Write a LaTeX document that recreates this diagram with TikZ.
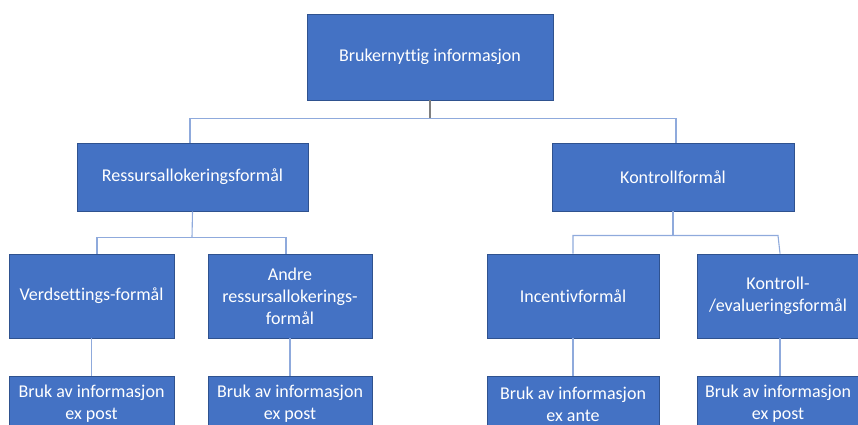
\documentclass[tikz,border=0pt]{standalone}
\usepackage{fontspec}
\setmainfont{Carlito}[Ligatures={NoCommon}]
\definecolor{boxfill}{HTML}{4472C4}
\definecolor{boxline}{HTML}{2F528F}
\definecolor{connblue}{HTML}{8FAADC}
\definecolor{conngray}{HTML}{7F7F7F}
\begin{document}
\begin{tikzpicture}[x=1pt,y=-1pt,
  box/.style={draw=boxline,line width=0.9pt,fill=boxfill,text=white,align=center,
    inner sep=2pt,font=\fontsize{18}{22}\selectfont},
  conn/.style={draw=connblue,line width=1.1pt},
  conng/.style={draw=conngray,line width=1.4pt}]
\useasboundingbox (0,0) rectangle (858,424);
% level 1
\node[box,minimum width=246pt,minimum height=86pt] (top) at (430,57) {Brukernyttig informasjon};
% level 2
\node[box,minimum width=231pt,minimum height=68pt] (L2L) at (192.5,177) {Ressursallokeringsformål};
\node[box,minimum width=242pt,minimum height=68pt] (L2R) at (673,177) {Kontrollformål};
% level 3
\node[box,minimum width=165pt,minimum height=84pt] (L3a) at (91.5,296) {Verdsettings-formål};
\node[box,minimum width=164pt,minimum height=84pt] (L3b) at (290,296) {Andre\\ressursallokerings-\\formål};
\node[box,minimum width=172pt,minimum height=84pt] (L3c) at (573,296) {Incentivformål};
\node[box,minimum width=162pt,minimum height=84pt] (L3d) at (778,296) {Kontroll-\\/evalueringsformål};
% level 4
\node[box,minimum width=165pt,minimum height=56pt] (L4a) at (91.5,404) {Bruk av informasjon\\ex post};
\node[box,minimum width=164pt,minimum height=56pt] (L4b) at (290,404) {Bruk av informasjon\\ex post};
\node[box,minimum width=172pt,minimum height=56pt] (L4c) at (573,404) {Bruk av informasjon\\ex ante};
\node[box,minimum width=162pt,minimum height=56pt] (L4d) at (778,404) {Bruk av informasjon\\ex post};
% connectors
\coordinate (j1) at (430,118.7);
\coordinate (j2) at (192,237.5);
\coordinate (j3) at (673,235.5);
\draw[conng] (top.south) -- (j1);
\draw[conn] ([xshift=-2.5pt]L2L.north) |- (j1) -| ([xshift=3pt]L2R.north);
\draw[conn] (L2L.south) -- (j2);
\draw[conn] ([xshift=5.5pt]L3a.north) |- (j2) -| ([xshift=-4pt]L3b.north);
\draw[conn] (L2R.south) -- (j3);
\draw[conn] (L3c.north) |- (j3) -- (778,235.5) -- ([xshift=2pt]L3d.north);
\draw[conn] (L3a.south) -- (L4a.north);
\draw[conn] (L3b.south) -- (L4b.north);
\draw[conn] (L3c.south) -- (L4c.north);
\draw[conn] ([xshift=2pt]L3d.south) -- ([xshift=2pt]L4d.north);
\end{tikzpicture}
\end{document}
